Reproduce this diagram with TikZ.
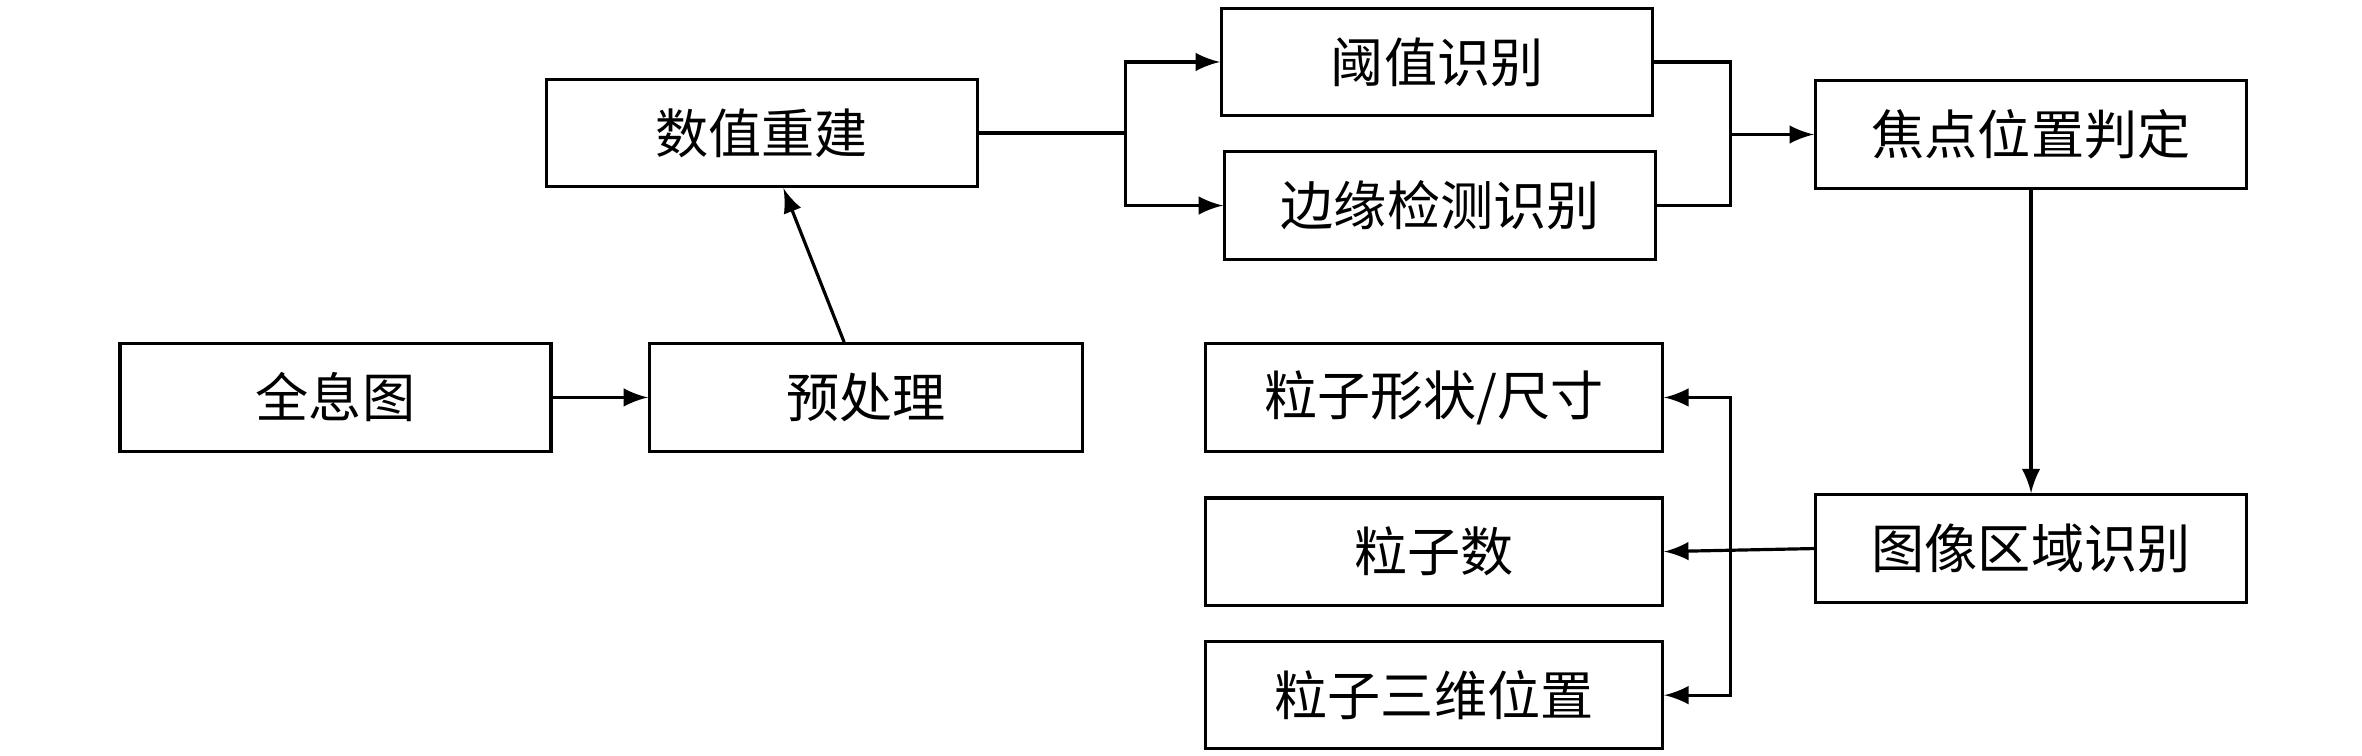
\documentclass[tikz,border=0pt]{standalone}
\usepackage{fontspec}
\setmainfont{Noto Sans CJK SC}
\tikzset{>=latex}
\tikzstyle{box}=[draw,line width=0.6pt,minimum height=0.71cm,inner sep=0pt,font=\fontsize{10}{12}\selectfont]
\tikzstyle{link}=[line width=0.6pt]
\begin{document}
\begin{tikzpicture}[x=0.01cm,y=-0.01cm]
  \useasboundingbox (0,0) rectangle (1563,500);
  % boxes
  \node[box,minimum width=2.85cm] (holo) at (222,263) {全息图};
  \node[box,minimum width=2.86cm] (pre) at (573,263) {预处理};
  \node[box,minimum width=2.85cm] (rec) at (504,88) {数值重建};
  \node[box,minimum width=2.85cm] (thr) at (951,41) {阈值识别};
  \node[box,minimum width=2.85cm] (edge) at (953,136) {边缘检测识别};
  \node[box,minimum width=2.85cm] (focus) at (1344,89) {焦点位置判定};
  \node[box,minimum width=2.85cm] (area) at (1344,363) {图像区域识别};
  \node[box,minimum width=3.02cm] (shape) at (949,263) {粒子形状/尺寸};
  \node[box,minimum width=3.02cm] (num) at (949,365) {粒子数};
  \node[box,minimum width=3.02cm] (pos) at (949,460) {粒子三维位置};
  % junctions
  \coordinate (s) at (745,88);
  \coordinate (m) at (1145,89);
  \coordinate (t) at (1145,363);
  % connectors
  \draw[link,->] (holo) -- (pre);
  \draw[link,->] (pre) -- (rec);
  \draw[link] (rec.east) -- (s);
  \draw[link,->] (s) |- (thr.west);
  \draw[link,->] (s) |- (edge.west);
  \draw[link] (thr.east) -| (m);
  \draw[link] (edge.east) -| (m);
  \draw[link,->] (m) -- (focus.west);
  \draw[link,->] (focus.south -| area.north) -- (area.north);
  \draw[link,->] (area.west) -- (num.east);
  \draw[link,->] (t) |- (shape.east);
  \draw[link,->] (t) |- (pos.east);
\end{tikzpicture}
\end{document}
